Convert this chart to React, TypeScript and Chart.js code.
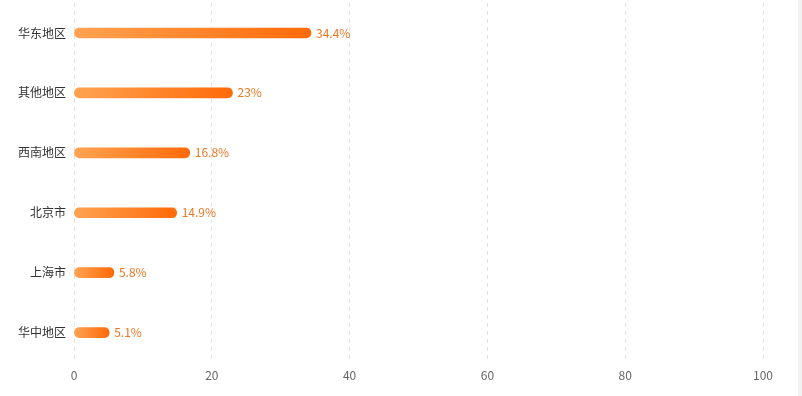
import React, { useEffect, useRef } from "react";
import { Chart, registerables } from "chart.js";

Chart.register(...registerables);

const categories = ["华东地区", "其他地区", "西南地区", "北京市", "上海市", "华中地区"];
const shares = [34.4, 23, 16.8, 14.9, 5.8, 5.1];
const tickValues = [0, 20, 40, 60, 80, 100];

const FONT = '"Noto Sans CJK SC", "Noto Sans", sans-serif';

const labelPlugin = {
  id: "barLabels",
  afterDatasetsDraw(chart: any) {
    const ctx = chart.ctx;
    const meta = chart.getDatasetMeta(0);
    ctx.save();
    ctx.font = `12px ${FONT}`;
    ctx.fillStyle = "#EE7623";
    ctx.textAlign = "left";
    ctx.textBaseline = "middle";
    meta.data.forEach((bar: any, i: number) => {
      ctx.fillText(`${shares[i]}%`, bar.x + 5, bar.y);
    });
    ctx.restore();
  },
};

export default function App() {
  const ref = useRef<HTMLCanvasElement>(null);
  useEffect(() => {
    document.body.style.margin = "0";
    const chart = new Chart(ref.current!, {
      type: "bar",
      data: {
        labels: categories,
        datasets: [
          {
            data: shares,
            barThickness: 10,
            borderRadius: 5,
            borderSkipped: false,
            backgroundColor: (c: any) => {
              const ch = c.chart;
              const xs = ch.scales.x;
              if (!xs || c.raw == null) return "#FF8A30";
              const x0 = xs.getPixelForValue(0);
              const x1 = xs.getPixelForValue(c.raw);
              if (!isFinite(x0) || !isFinite(x1) || x1 <= x0) return "#FF8A30";
              const g = ch.ctx.createLinearGradient(x0, 0, x1, 0);
              g.addColorStop(0, "#FFA352");
              g.addColorStop(1, "#FF6A08");
              return g;
            },
          },
        ],
      },
      options: {
        indexAxis: "y",
        animation: false,
        responsive: false,
        layout: { padding: { top: 3, right: 39, bottom: 7, left: 0 } },
        plugins: { legend: { display: false }, tooltip: { enabled: false } },
        scales: {
          x: {
            min: 0,
            max: 100,
            afterBuildTicks: (s: any) => {
              s.ticks = tickValues.map((v) => ({ value: v }));
            },
            grid: { color: "#E3E3E3", drawTicks: false, lineWidth: 1 },
            border: { display: false, dash: [4, 4] },
            ticks: { color: "#666", font: { size: 12, family: FONT }, padding: 6 },
          },
          y: {
            afterFit: (s: any) => {
              s.width = 74;
              s.paddingTop = 0;
              s.paddingBottom = 0;
            },
            grid: { display: false, drawTicks: false },
            border: { display: false },
            ticks: { color: "#333", font: { size: 12, family: FONT }, padding: 8 },
          },
        },
      },
      plugins: [labelPlugin],
    } as any);
    return () => chart.destroy();
  }, []);
  return (
    <div style={{ position: "relative", width: 802, height: 396 }}>
      <canvas ref={ref} width={802} height={396} style={{ display: "block" }} />
      <div style={{ position: "absolute", right: 0, top: 0, width: 4, height: 396, background: "#F2F2F2" }} />
    </div>
  );
}
